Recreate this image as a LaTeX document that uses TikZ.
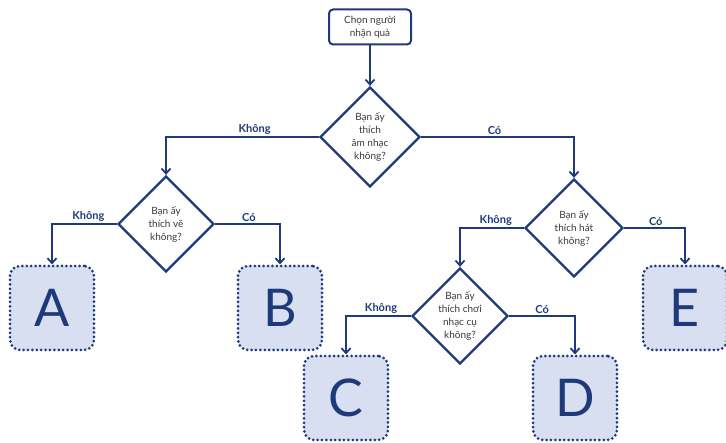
\documentclass[tikz,border=0pt]{standalone}
\usepackage{fontspec}
\setmainfont{Lato}
\usetikzlibrary{shapes.geometric,arrows.meta}
\definecolor{navy}{HTML}{1E3A7B}
\definecolor{boxfill}{HTML}{D7DFF0}
\definecolor{txtgray}{HTML}{3A3A3A}
\tikzset{
  conn/.style={draw=navy, line width=2.3pt, -{Straight Barb[length=5pt,width=9pt,line width=1.8pt]}},
  question/.style={diamond, draw=navy, line width=2.3pt, fill=white, inner sep=0pt, minimum width=#1, minimum height=#1},
  qtext/.style={align=center, text=txtgray, font=\fontsize{10}{13}\selectfont},
  result/.style={draw=navy, line width=3pt, dash pattern=on 0pt off 4.4pt, line cap=round, rounded corners=10pt, fill=boxfill, minimum width=84pt, minimum height=84pt, inner sep=0pt, text=navy, font=\fontsize{52}{52}\selectfont},
  startbox/.style={draw=navy, line width=2pt, rounded corners=4pt, fill=white, minimum width=82pt, minimum height=35pt, align=center, text=txtgray, font=\fontsize{10}{13}\selectfont},
  ans/.style={text=navy, font=\bfseries\fontsize{11}{12}\selectfont, anchor=south, inner sep=1.5pt}
}
\begin{document}
\begin{tikzpicture}[x=1pt,y=-1pt]
\useasboundingbox (0,0) rectangle (726,443);
\node[startbox] (start) at (370,27) {Chọn người\\nhận quà};
\node[question=100pt, label={[qtext]center:Bạn ấy\\thích\\âm nhạc\\không?}] (q1) at (370,137) {};
\node[question=96pt, label={[qtext]center:Bạn ấy\\thích vẽ\\không?}] (q2) at (166,224) {};
\node[question=98pt, label={[qtext]center:Bạn ấy\\thích hát\\không?}] (q3) at (574,228) {};
\node[question=96pt, label={[qtext]center:Bạn ấy\\thích chơi\\nhạc cụ\\không?}] (q4) at (460,316) {};
\node[result] (A) at (52,308) {A};
\node[result] (B) at (280,308) {B};
\node[result] (E) at (685,308) {E};
\node[result] (C) at (346,398) {C};
\node[result] (D) at (575,398) {D};
\draw[conn] (start.south) -- (q1.north);
\draw[conn] (q1.west) -| node[ans, pos=0.21] {Không} (q2.north);
\draw[conn] (q1.east) -| node[ans, pos=0.24] {Có} (q3.north);
\draw[conn] (q2.west) -| node[ans, pos=0.22] {Không} (A.north);
\draw[conn] (q2.east) -| node[ans, pos=0.26] {Có} (B.north);
\draw[conn] (q3.west) -| node[ans, pos=0.22] {Không} (q4.north);
\draw[conn] (q3.east) -| node[ans, pos=0.26] {Có} (E.north);
\draw[conn] (q4.west) -| node[ans, pos=0.23] {Không} (C.north);
\draw[conn] (q4.east) -| node[ans, pos=0.25] {Có} (D.north);
\end{tikzpicture}
\end{document}
